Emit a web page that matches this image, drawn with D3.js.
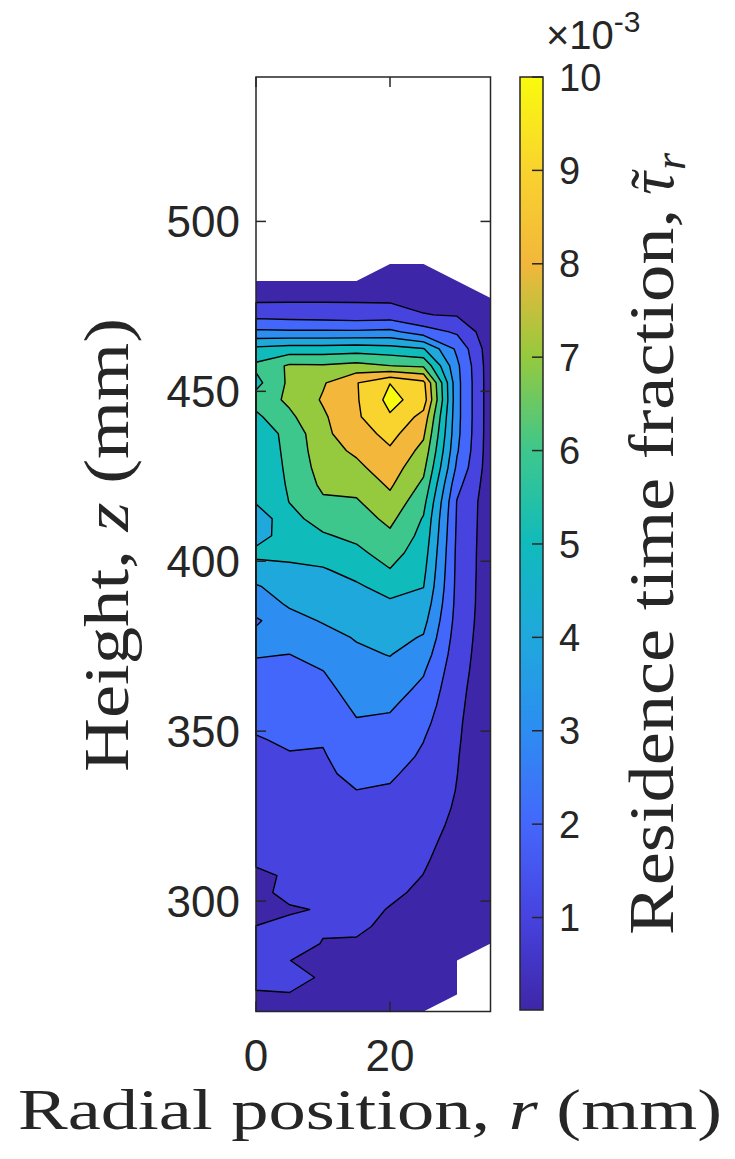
<!DOCTYPE html>
<html>
<head>
<meta charset="utf-8">
<script src="https://cdn.jsdelivr.net/npm/d3@7"></script>
<style>
  body { margin: 0; background: #fff; }
  svg text { fill: #262626; }
</style>
</head>
<body>
<div id="chart"></div>
<script>
// Measurement grid: radial positions (mm) and heights (mm, top row first)
const rValues = [0, 5, 10, 15, 20, 25, 30, 35];
const zValues = [487.5, 482.5, 477.5, 472.5, 467.5, 462.5, 457.5, 452.5, 447.5, 442.5,
                 437.5, 432.5, 427.5, 422.5, 417.5, 412.5, 407.5, 402.5, 397.5, 392.5,
                 387.5, 382.5, 377.5, 372.5, 367.5, 362.5, 357.5, 352.5, 347.5, 342.5,
                 337.5, 332.5, 327.5, 322.5, 317.5, 312.5, 307.5, 302.5, 297.5, 292.5,
                 287.5, 282.5, 277.5, 272.5, 267.5];

// Residence time fraction (x 1e-3), one row per height, NaN = not measured
const tau = [
  [NaN,  NaN,  NaN,  NaN,  0.3,  0.3,  NaN,  NaN],
  [0.5,  0.55, 0.6,  0.6,  0.55, 0.5,  0.4,  NaN],
  [0.75, 0.8,  0.82, 0.85, 0.8,  0.75, 0.65, 0.25],
  [1.66, 1.57, 1.51, 1.41, 1.47, 1.03, 0.93, 0.3],
  [3.2,  3.15, 3.15, 3.15, 3.25, 2.48, 1.85, 0.35],
  [5.24, 5.45, 5.45, 5.54, 5.4,  5.05, 2.8,  0.4],
  [6.2,  7.15, 7.1,  7.32, 7.02, 6.85, 3.2,  0.42],
  [5.7,  7.2,  7.9,  8.95, 9.98, 9.25, 3.3,  0.42],
  [6.4,  7.2,  8.1,  8.9,  10.3, 9.53, 3.3,  0.42],
  [5.8,  6.8,  7.85, 8.85, 9.9,  8.67, 3.3,  0.42],
  [5.5,  6.25, 7.8,  8.5,  9.33, 8.16, 3.25, 0.42],
  [5.45, 6.2,  7.65, 8.15, 8.86, 7.7,  3.1,  0.42],
  [5.4,  6.15, 7.45, 7.79, 8.5,  7.25, 2.8,  0.42],
  [5.3,  6.1,  7.2,  7.32, 8.14, 6.79, 2.3,  0.42],
  [5.1,  6.02, 6.85, 6.9,  7.71, 6.31, 1.95, 0.42],
  [4.3,  5.75, 6.33, 6.55, 7.24, 5.92, 1.9,  0.42],
  [4.6,  5.46, 5.91, 6.2,  6.81, 5.7,  1.85, 0.42],
  [5.25, 5.18, 5.39, 5.79, 6.4,  5.47, 1.8,  0.42],
  [4.6,  4.86, 4.93, 5.29, 5.97, 5.25, 1.78, 0.42],
  [3.9,  4.48, 4.64, 4.88, 5.32, 5.02, 1.75, 0.41],
  [3.6,  4.1,  4.35, 4.61, 4.86, 4.67, 1.72, 0.41],
  [2.85, 3.73, 4.06, 4.34, 4.58, 4.3,  1.65, 0.4],
  [3.3,  3.36, 3.7,  4.06, 4.31, 3.92, 1.55, 0.4],
  [3.05, 2.99, 3.33, 3.83, 4.03, 3.5,  1.45, 0.4],
  [2.8,  2.82, 2.98, 3.6,  3.73, 3.08, 1.35, 0.4],
  [2.58, 2.64, 2.75, 3.38, 3.42, 2.79, 1.25, 0.4],
  [2.36, 2.46, 2.52, 3.16, 3.11, 2.52, 1.18, 0.4],
  [2.13, 2.28, 2.29, 2.93, 2.84, 2.26, 1.12, 0.4],
  [1.95, 2.1,  2.06, 2.69, 2.6,  2.02, 1.08, 0.4],
  [1.85, 1.95, 1.93, 2.45, 2.35, 1.88, 1.04, 0.4],
  [1.75, 1.85, 1.85, 2.21, 2.11, 1.72, 1.01, 0.39],
  [1.62, 1.75, 1.76, 1.99, 1.92, 1.55, 0.97, 0.38],
  [1.5,  1.62, 1.67, 1.87, 1.79, 1.38, 0.92, 0.37],
  [1.38, 1.5,  1.59, 1.76, 1.65, 1.26, 0.86, 0.36],
  [1.25, 1.38, 1.5,  1.64, 1.51, 1.15, 0.8,  0.35],
  [1.1,  1.25, 1.42, 1.53, 1.37, 1.07, 0.74, 0.34],
  [0.9,  1.06, 1.33, 1.41, 1.24, 0.99, 0.68, 0.33],
  [0.85, 1.15, 1.2,  1.3,  1.1,  0.9,  0.62, 0.32],
  [0.8,  0.94, 1.04, 1.18, 0.97, 0.82, 0.56, 0.31],
  [1.01, 1.13, 1.07, 1.08, 0.9,  0.74, 0.5,  0.3],
  [1.2,  1.3,  0.97, 0.95, 0.8,  0.66, 0.45, 0.28],
  [1.25, 1.01, 0.7,  0.85, 0.7,  0.58, 0.4,  NaN],
  [1.15, 1.15, 0.95, 0.75, 0.6,  0.5,  0.35, NaN],
  [0.95, 0.98, 0.8,  0.65, 0.5,  0.42, 0.3,  NaN],
  [0.85, 0.85, 0.75, 0.55, 0.44, 0.35, NaN,  NaN]
];

const levels = [0, 1, 2, 3, 4, 5, 6, 7, 8, 9, 10];
const colorbarTicks = [1, 2, 3, 4, 5, 6, 7, 8, 9, 10];
const xTicks = [0, 20];
const yTicks = [300, 350, 400, 450, 500];
const colorMin = 0.01, colorMax = 10;

// Layout
const W = 735, H = 1159;
const ax = {left: 256, right: 490.5, top: 77, bottom: 1011.5};
const cb = {left: 520, right: 543, top: 77, bottom: 1010};
const ink = "#262626";

const svg = d3.select("#chart").append("svg")
    .attr("width", W)
    .attr("height", H);

const x = d3.scaleLinear().domain([0, 35]).range([ax.left, ax.right]);
const y = d3.scaleLinear().domain([267.5, 542.5]).range([ax.bottom, ax.top]);

// parula-like colormap
const parula = d3.piecewise(d3.interpolateRgb, [
  "#3e26a8", "#4743e0", "#4467fb", "#2d8df1", "#1fa8dc", "#10bbbc",
  "#3ec78c", "#95c93e", "#f2b73b", "#f9d32e", "#f9fb0e"
]);
const color = v => parula(Math.max(0, Math.min(1, (v - colorMin) / (colorMax - colorMin))));

// Contours on the grid (missing points pushed far below every level)
const nx = rValues.length, ny = zValues.length;
const values = tau.flat().map(v => Number.isNaN(v) ? -1e6 : v);
const bands = d3.contours().size([nx, ny]).thresholds(levels)(values);

const colIndex = d3.scaleLinear().domain([0, nx - 1]).range([rValues[0], rValues[nx - 1]]).clamp(true);
const rowIndex = d3.scaleLinear().domain([0, ny - 1]).range([zValues[0], zValues[ny - 1]]).clamp(true);
const toScreen = d3.geoTransform({
  point(px, py) { this.stream.point(x(colIndex(px - 0.5)), y(rowIndex(py - 0.5))); }
});
const path = d3.geoPath(toScreen);

svg.append("g")
  .selectAll("path")
  .data(bands)
  .join("path")
    .attr("d", path)
    .attr("fill", d => color(d.value))
    .attr("stroke", "none");

svg.append("g")
  .selectAll("path")
  .data(bands.filter(d => d.value > 0))
  .join("path")
    .attr("d", path)
    .attr("fill", "none")
    .attr("stroke", "#000")
    .attr("stroke-width", 1.4)
    .attr("stroke-linejoin", "round");

// Axes box and inward ticks
const axes = svg.append("g").attr("stroke", ink).attr("stroke-width", 1.5);
axes.append("rect")
    .attr("x", ax.left).attr("y", ax.top)
    .attr("width", ax.right - ax.left).attr("height", ax.bottom - ax.top)
    .attr("fill", "none");
yTicks.forEach(t => {
  axes.append("line").attr("x1", ax.left).attr("x2", ax.left + 10).attr("y1", y(t)).attr("y2", y(t));
  axes.append("line").attr("x1", ax.right - 10).attr("x2", ax.right).attr("y1", y(t)).attr("y2", y(t));
});
xTicks.forEach(t => {
  axes.append("line").attr("x1", x(t)).attr("x2", x(t)).attr("y1", ax.bottom).attr("y2", ax.bottom - 10);
  axes.append("line").attr("x1", x(t)).attr("x2", x(t)).attr("y1", ax.top).attr("y2", ax.top + 10);
});

const sans = "'Liberation Sans', Arial, Helvetica, sans-serif";
const serif = "'Liberation Serif', 'Times New Roman', serif";

svg.append("g").selectAll("text")
  .data(yTicks)
  .join("text")
    .attr("x", ax.left - 16)
    .attr("y", d => y(d))
    .attr("dy", "0.36em")
    .attr("text-anchor", "end")
    .attr("font-family", sans)
    .attr("font-size", 44)
    .text(d => d);

svg.append("g").selectAll("text")
  .data(xTicks)
  .join("text")
    .attr("x", d => x(d))
    .attr("y", 1071)
    .attr("text-anchor", "middle")
    .attr("font-family", sans)
    .attr("font-size", 44)
    .text(d => d);

// Axis titles
const xTitle = svg.append("text")
    .attr("x", 370).attr("y", 1129)
    .attr("text-anchor", "middle")
    .attr("font-family", serif)
    .attr("font-size", 57)
    .attr("textLength", 704)
    .attr("lengthAdjust", "spacingAndGlyphs");
xTitle.append("tspan").text("Radial position, ");
xTitle.append("tspan").attr("font-style", "italic").text("r");
xTitle.append("tspan").text(" (mm)");

const yTitle = svg.append("text")
    .attr("transform", "translate(128,545) rotate(-90)")
    .attr("text-anchor", "middle")
    .attr("font-family", serif)
    .attr("font-size", 64)
    .attr("textLength", 454)
    .attr("lengthAdjust", "spacingAndGlyphs");
yTitle.append("tspan").text("Height, ");
yTitle.append("tspan").attr("font-style", "italic").text("z");
yTitle.append("tspan").text(" (mm)");

// Colorbar
const c = d3.scaleLinear().domain([colorMin, colorMax]).range([cb.bottom, cb.top]);
const grad = svg.append("defs").append("linearGradient")
    .attr("id", "cbar")
    .attr("x1", 0).attr("y1", 1).attr("x2", 0).attr("y2", 0);
d3.range(0, 51).forEach(i => {
  grad.append("stop")
      .attr("offset", i / 50)
      .attr("stop-color", color(colorMin + (colorMax - colorMin) * i / 50));
});
svg.append("rect")
    .attr("x", cb.left).attr("y", cb.top)
    .attr("width", cb.right - cb.left).attr("height", cb.bottom - cb.top)
    .attr("fill", "url(#cbar)")
    .attr("stroke", ink)
    .attr("stroke-width", 1.5);
svg.append("g").attr("stroke", ink).attr("stroke-width", 1.5)
  .selectAll("line")
  .data(colorbarTicks)
  .join("line")
    .attr("x1", cb.right - 11).attr("x2", cb.right)
    .attr("y1", d => c(d)).attr("y2", d => c(d));
svg.append("g").selectAll("text")
  .data(colorbarTicks)
  .join("text")
    .attr("x", 559)
    .attr("y", d => c(d))
    .attr("dy", "0.36em")
    .attr("font-family", sans)
    .attr("font-size", 38)
    .text(d => d);

const expo = svg.append("text")
    .attr("x", 546).attr("y", 49)
    .attr("font-family", sans)
    .attr("font-size", 40);
expo.append("tspan").text("\u00d710");
expo.append("tspan").attr("font-size", 30).attr("dy", -17).text("-3");

// Colorbar title, written upwards from the bottom
const cTitle = svg.append("g").attr("transform", "translate(673,935) rotate(-90)")
    .attr("font-family", serif);
cTitle.append("text")
    .attr("x", 0).attr("y", 0)
    .attr("font-size", 64)
    .attr("textLength", 726)
    .attr("lengthAdjust", "spacingAndGlyphs")
    .text("Residence time fraction,");
cTitle.append("text")
    .attr("x", 740).attr("y", 0)
    .attr("font-size", 64)
    .attr("font-style", "italic")
    .text("\u03c4");
cTitle.append("text")
    .attr("x", 756).attr("y", -2)
    .attr("text-anchor", "middle")
    .attr("font-size", 60)
    .text("\u02dc");
cTitle.append("text")
    .attr("x", 765).attr("y", 12)
    .attr("font-size", 44)
    .attr("font-style", "italic")
    .text("r");
</script>
</body>
</html>
